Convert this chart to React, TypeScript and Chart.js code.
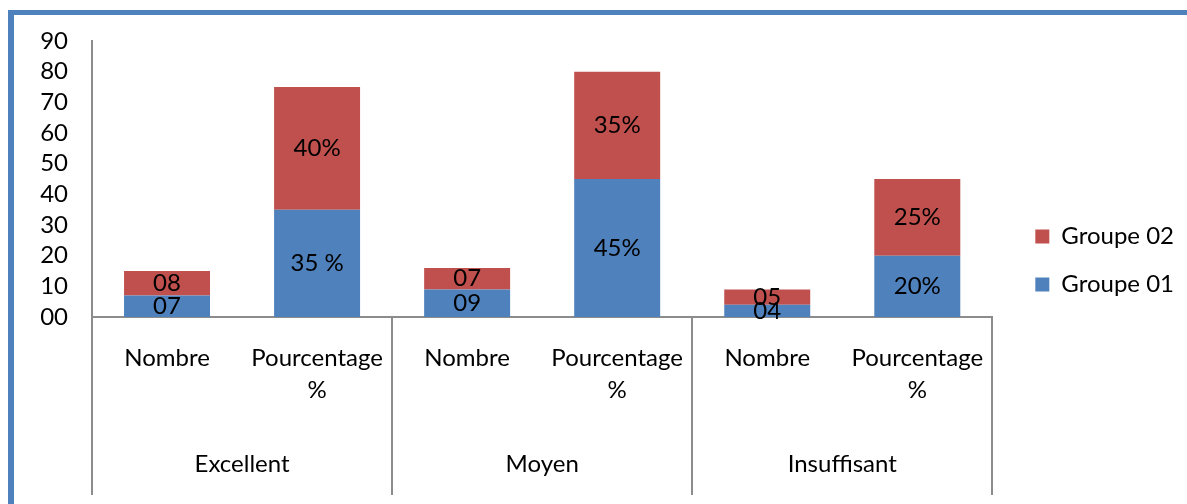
import React, { useEffect, useRef } from 'react';
import { Chart, registerables } from 'chart.js';

Chart.register(...registerables);

// ---- data ----
const subCategories: (string | string[])[] = [
  'Nombre', ['Pourcentage', '%'],
  'Nombre', ['Pourcentage', '%'],
  'Nombre', ['Pourcentage', '%'],
];
const groups = ['Excellent', 'Moyen', 'Insuffisant'];
const seriesNames = ['Groupe 01', 'Groupe 02'];
const group01Values = [7, 35, 9, 45, 4, 20];
const group02Values = [8, 40, 7, 35, 5, 25];
const group01Labels = ['07', '35 %', '09', '45%', '04', '20%'];
const group02Labels = ['08', '40%', '07', '35%', '05', '25%'];
const yMin = 0;
const yMax = 90;
const yStep = 10;

// ---- styles ----
const BLUE = '#4F81BD';
const RED = '#C0504D';
const AXIS = '#8C8C8C';
const FONT = 'Lato';
const FONT_SIZE = 24;

const valueLabels = [group01Labels, group02Labels];

const barLabelPlugin = {
  id: 'barLabels',
  afterDatasetsDraw(chart: any) {
    const ctx = chart.ctx;
    ctx.save();
    ctx.font = `${FONT_SIZE}px ${FONT}`;
    ctx.fillStyle = '#000';
    ctx.textAlign = 'center';
    ctx.textBaseline = 'middle';
    chart.data.datasets.forEach((_ds: any, di: number) => {
      const meta = chart.getDatasetMeta(di);
      meta.data.forEach((bar: any, i: number) => {
        const { x, y, base } = bar.getProps(['x', 'y', 'base'], true);
        ctx.fillText(valueLabels[di][i], x, (y + base) / 2);
      });
    });
    ctx.restore();
  },
};

const dividerPlugin = {
  id: 'groupDividers',
  afterDraw(chart: any) {
    const xs = chart.scales.x;
    const x2 = chart.scales.x2;
    const step = xs.getPixelForValue(1) - xs.getPixelForValue(0);
    const perGroup = subCategories.length / groups.length;
    const ctx = chart.ctx;
    ctx.save();
    ctx.strokeStyle = AXIS;
    ctx.lineWidth = 2;
    for (let g = 0; g <= groups.length; g++) {
      const px = Math.round(xs.getPixelForValue(g * perGroup) - step / 2);
      ctx.beginPath();
      ctx.moveTo(px, xs.top);
      ctx.lineTo(px, x2.bottom + 15);
      ctx.stroke();
    }
    ctx.restore();
  },
};

export default function App() {
  const canvasRef = useRef<HTMLCanvasElement | null>(null);

  useEffect(() => {
    if (!canvasRef.current) return;
    Chart.defaults.font.family = FONT;
    Chart.defaults.color = '#000';
    const chart = new Chart(canvasRef.current, {
      type: 'bar',
      data: {
        labels: subCategories,
        datasets: [
          {
            label: seriesNames[0],
            data: group01Values,
            backgroundColor: BLUE,
            categoryPercentage: 1,
            barPercentage: 0.573,
          },
          {
            label: seriesNames[1],
            data: group02Values,
            backgroundColor: RED,
            categoryPercentage: 1,
            barPercentage: 0.573,
          },
        ],
      },
      options: {
        responsive: false,
        animation: false,
        devicePixelRatio: 1,
        layout: { padding: { top: 41, left: 0, right: 3, bottom: 24 } },
        plugins: {
          legend: {
            position: 'right',
            reverse: true,
            labels: {
              boxWidth: 14,
              boxHeight: 14,
              padding: 24,
              color: '#000',
              font: { size: FONT_SIZE, family: FONT },
            },
          },
          tooltip: { enabled: false },
        },
        scales: {
          x: {
            stacked: true,
            grid: { display: false, drawTicks: false },
            border: { display: true, color: AXIS, width: 2 },
            ticks: {
              autoSkip: false,
              maxRotation: 0,
              minRotation: 0,
              padding: 25,
              color: '#000',
              font: { size: FONT_SIZE, family: FONT, lineHeight: 32 / 24 },
            },
            afterFit: (s: any) => { s.height = 89; },
          },
          x2: {
            type: 'category',
            position: 'bottom',
            labels: groups,
            offset: true,
            grid: { display: false, drawTicks: false },
            border: { display: false },
            ticks: {
              autoSkip: false,
              maxRotation: 0,
              minRotation: 0,
              padding: 42,
              color: '#000',
              font: { size: FONT_SIZE, family: FONT, lineHeight: 32 / 24 },
            },
            afterFit: (s: any) => { s.height = 74; },
          },
          y: {
            stacked: true,
            min: yMin,
            max: yMax,
            grid: { display: false, drawTicks: false },
            border: { display: true, color: AXIS, width: 2 },
            ticks: {
              stepSize: yStep,
              autoSkip: false,
              padding: 24,
              color: '#000',
              font: { size: FONT_SIZE, family: FONT },
              callback: (v: any) => String(v).padStart(2, '0'),
            },
            afterFit: (s: any) => { s.width = 92; },
          },
          spacer: {
            type: 'linear',
            position: 'right',
            display: true,
            grid: { display: false, drawTicks: false },
            border: { display: false },
            ticks: { display: false },
            afterFit: (s: any) => { s.width = 19; },
          },
        },
      } as any,
      plugins: [barLabelPlugin, dividerPlugin],
    });
    return () => chart.destroy();
  }, []);

  return (
    <div style={{ position: 'fixed', left: 0, top: 0, width: 1187, height: 504, overflow: 'hidden', background: '#fff' }}>
      <canvas ref={canvasRef} width={1187} height={504} style={{ position: 'absolute', left: 0, top: 0 }} />
      <div
        style={{
          position: 'absolute',
          left: 8,
          top: 10,
          width: 1300,
          height: 600,
          borderLeft: `6px solid ${BLUE}`,
          borderTop: `5px solid ${BLUE}`,
          pointerEvents: 'none',
        }}
      />
    </div>
  );
}
